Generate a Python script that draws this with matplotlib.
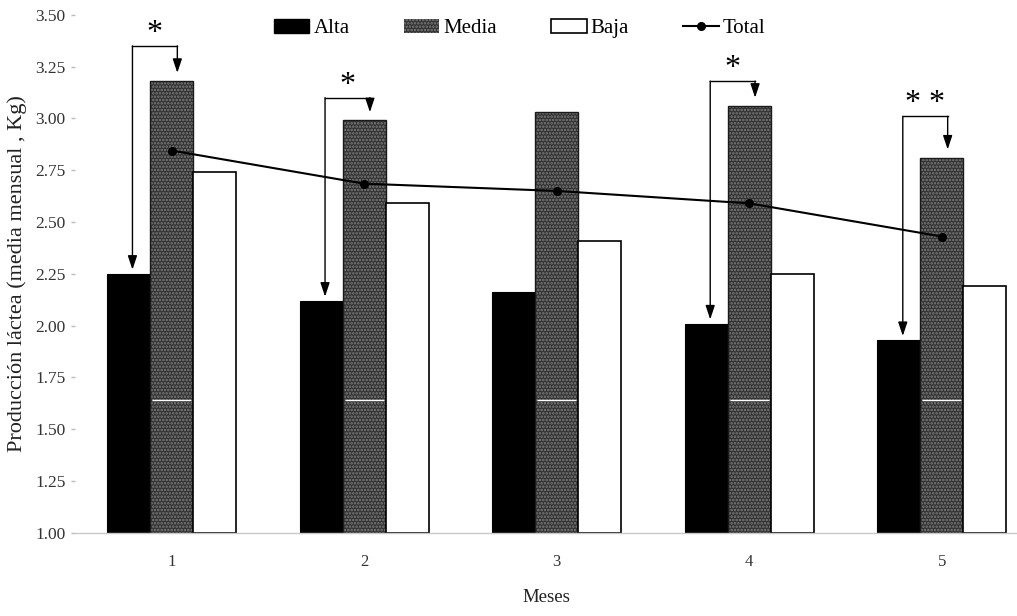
import matplotlib
matplotlib.use("Agg")
import matplotlib.pyplot as plt
import numpy as np
from matplotlib.patches import Patch
from matplotlib.lines import Line2D

# datos
meses = [1, 2, 3, 4, 5]
alta = [2.25, 2.12, 2.16, 2.01, 1.93]
media = [3.18, 2.99, 3.03, 3.06, 2.81]
baja = [2.74, 2.59, 2.41, 2.25, 2.19]
total = [2.845, 2.685, 2.65, 2.59, 2.43]

# diferencias significativas Alta vs Media
signif = ['*', '*', '', '*', '* *']
altura_corchete = [3.35, 3.10, None, 3.18, 3.01]

yticks = [1.00, 1.25, 1.50, 1.75, 2.00, 2.25, 2.50, 2.75, 3.00, 3.25, 3.50]
base = 1.0

plt.rcParams['font.family'] = ['Liberation Serif', 'DejaVu Serif']
plt.rcParams['hatch.linewidth'] = 1.2


def main():
    fig = plt.figure(figsize=(10.17, 6.16), dpi=100)
    ax = fig.add_axes([0.074, 0.135, 0.926, 0.841])

    x = np.array(meses, dtype=float)
    w = 0.223

    ax.bar(x - w, np.array(alta) - base, w, bottom=base, color='black',
           edgecolor='black', linewidth=0.8)
    # media: gris texturado
    ax.bar(x, np.array(media) - base, w, bottom=base, color='#333333',
           edgecolor='#7c7c7c', hatch='.....', linewidth=0)
    ax.bar(x, np.array(media) - base, w, bottom=base, fill=False,
           edgecolor='#1a1a1a', linewidth=1.0)
    ax.hlines(np.full(len(x), 1.64), x - w / 2 + 0.01, x + w / 2 - 0.01,
              color='white', lw=1)
    ax.bar(x + w, np.array(baja) - base, w, bottom=base, color='white',
           edgecolor='black', linewidth=1.2)

    ax.plot(x, total, color='black', lw=1.5, marker='o', markersize=5.5)

    # corchetes con flechas
    for i in range(len(meses)):
        if not signif[i]:
            continue
        top = altura_corchete[i]
        xl = x[i] - w + 0.02
        xr = x[i] + 0.03
        ax.plot([xl, xr], [top, top], color='black', lw=1)
        for xx, yy in [(xl, alta[i] + 0.02), (xr, media[i] + 0.04)]:
            ax.annotate('', xy=(xx, yy), xytext=(xx, top),
                        arrowprops=dict(arrowstyle='-|>,head_length=0.6,head_width=0.2',
                                        color='black', lw=1, mutation_scale=14,
                                        shrinkA=0, shrinkB=0))
        ax.text((xl + xr) / 2, top + 0.06, signif[i], ha='center', va='center',
                fontsize=23)

    ax.set_xlim(0.5, 5.39)
    ax.set_ylim(1.0, 3.5)
    ax.set_yticks(yticks)
    ax.set_yticklabels(['%.2f' % v for v in yticks])
    ax.set_xticks(meses)
    ax.set_xticklabels([str(m) for m in meses])

    for s in ['top', 'right', 'left']:
        ax.spines[s].set_visible(False)
    ax.spines['bottom'].set_color('#c8c8c8')
    ax.spines['bottom'].set_linewidth(1.0)

    ax.tick_params(axis='y', colors='#bbbbbb', length=3, width=1, labelsize=12.5,
                   labelcolor='#333333', pad=4)
    ax.tick_params(axis='x', length=0, labelsize=12, labelcolor='#333333', pad=15)

    ax.set_ylabel('Producción láctea (media mensual , Kg)', fontsize=16,
                  color='#222222', labelpad=6)
    ax.set_xlabel('Meses', fontsize=13.5, color='#222222', labelpad=14)

    handles = [
        Patch(facecolor='black', edgecolor='black'),
        Patch(facecolor='#333333', edgecolor='#7c7c7c', hatch='.....', linewidth=0),
        Patch(facecolor='white', edgecolor='black', linewidth=1.2),
        Line2D([0], [0], color='black', lw=1.5, marker='o', markersize=5.5),
    ]
    ax.legend(handles, ['Alta', 'Media', 'Baja', 'Total'], ncol=4,
              loc='upper center', bbox_to_anchor=(0.472, 1.028), frameon=False,
              fontsize=15, handlelength=1.7, handleheight=0.65,
              handletextpad=0.2, columnspacing=2.6)

    fig.savefig('out.png', dpi=100)


main()
